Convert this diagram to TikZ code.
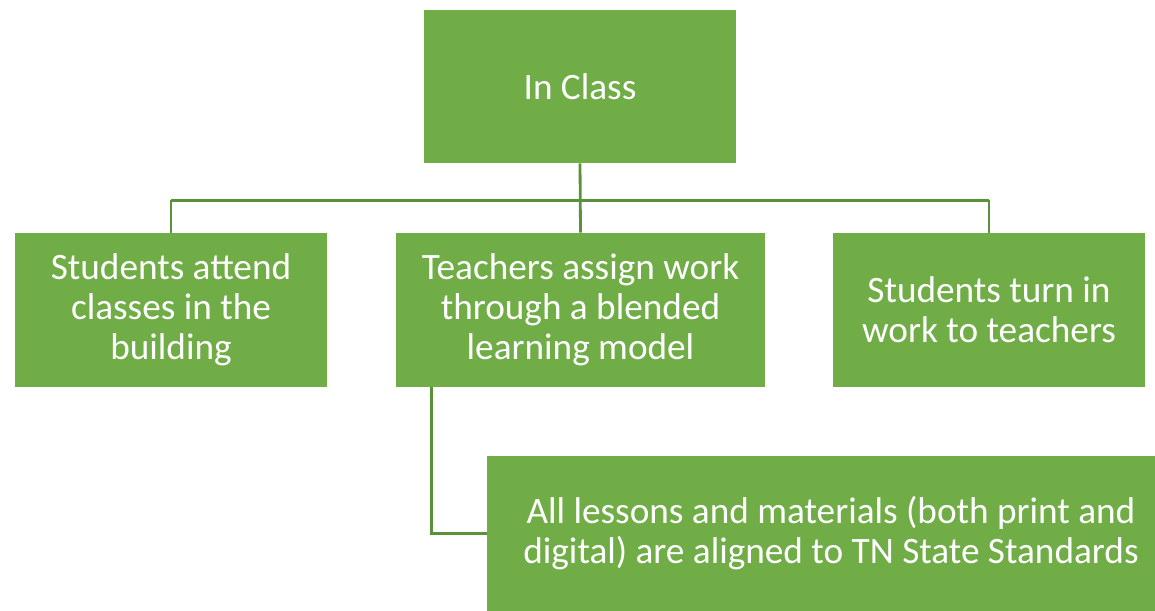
\documentclass[tikz,border=0pt]{standalone}
\usepackage{fontspec}
\setmainfont{Carlito}
\usetikzlibrary{positioning,calc}
\definecolor{boxgreen}{HTML}{70AD47}
\definecolor{linegreen}{HTML}{5A9239}

\begin{document}
\begin{tikzpicture}
        \tikzset{box/.style={rectangle,fill=boxgreen,text=white,align=center,inner sep=0pt,font=\fontsize{21.2}{22.8}\selectfont},
                 conn/.style={draw=linegreen,line width=1.6pt}}
        \useasboundingbox (0,0) rectangle (23.1,-12.2);
        \clip (0,0) rectangle (23.1,-12.2);

        \node[box,minimum width=6.24cm,minimum height=3.06cm] (inclass) at (11.6,-1.73) {In Class};
        \node[box,minimum width=6.24cm,minimum height=3.08cm] (attend) at (3.42,-6.2) {Students attend\\classes in the\\building};
        \node[box,minimum width=7.38cm,minimum height=3.08cm] (assign) at (11.61,-6.2) {Teachers assign work\\through a blended\\learning model};
        \node[box,minimum width=6.24cm,minimum height=3.08cm] (turnin) at (19.78,-6.2) {Students turn in\\work to teachers};
        \node[box,minimum width=13.76cm,minimum height=3.1cm] (aligned) at (16.62,-10.67) {All lessons and materials (both print and\\digital) are aligned to TN State Standards};

        \coordinate (hub) at ($(inclass.south) + (0,-0.74)$);
        \draw[conn] (inclass.south) -- (assign.north);
        \draw[conn] (hub -| attend.north) -- (hub -| turnin.north);
        \draw[conn] (hub -| attend.north) -- (attend.north);
        \draw[conn] (hub -| turnin.north) -- (turnin.north);
        \draw[conn] ($(assign.south west) + (0.72,0)$) |- (aligned.west);
\end{tikzpicture}
\end{document}
